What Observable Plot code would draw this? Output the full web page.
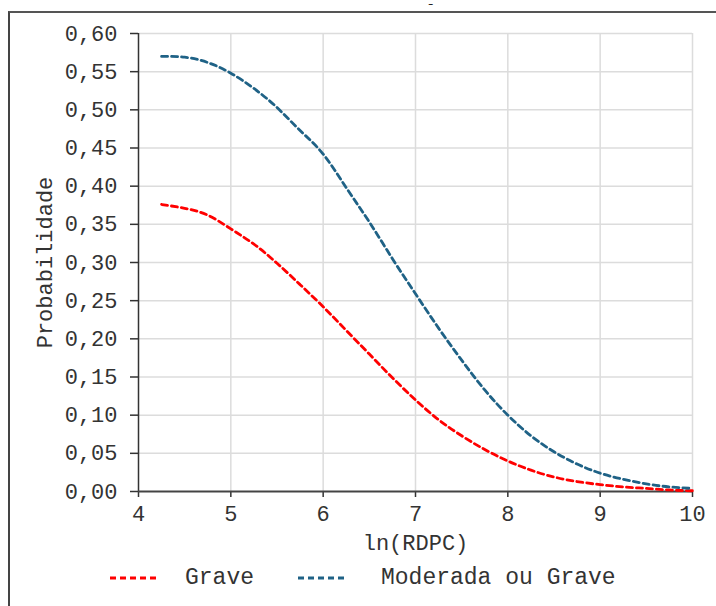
<!DOCTYPE html>
<html>
<head>
<meta charset="utf-8">
<script src="https://cdn.jsdelivr.net/npm/d3@7"></script>
<script src="https://cdn.jsdelivr.net/npm/@observablehq/plot@0.6"></script>
<style>
  html, body { margin: 0; padding: 0; background: #fff; }
  #wrap { position: relative; width: 716px; height: 606px; overflow: hidden; font-family: "Liberation Mono", "DejaVu Sans Mono", monospace; color: #333; }
  #frame { position: absolute; left: 8px; top: 11px; width: 760px; height: 640px; border-left: 2px solid #444; border-top: 2px solid #555; box-sizing: border-box; }
  #chart { position: absolute; left: 0; top: 0; }
  #topmark { position: absolute; left: 428px; top: 0px; font-size: 9px; line-height: normal; font-weight: bold; color: #222; z-index: 5; }
  .leg { position: absolute; top: 566px; height: 24px; display: flex; align-items: center; font-size: 23px; color: #333; white-space: nowrap; }
  .leg svg { display: block; }
</style>
</head>
<body>
<div id="wrap">
  <div id="frame"></div>
  <div id="chart"></div>
  <div id="topmark">–</div>
</div>
<script>
// ---- data ----
const lnRDPC = [4.25, 4.5, 4.75, 5.0, 5.25, 5.5, 5.75, 6.0, 6.25, 6.5, 6.75, 7.0, 7.25, 7.5, 7.75, 8.0, 8.25, 8.5, 8.75, 9.0, 9.25, 9.5, 9.75, 10.0];
const grave = [0.376, 0.371, 0.362, 0.344, 0.324, 0.299, 0.271, 0.242, 0.211, 0.180, 0.149, 0.120, 0.094, 0.073, 0.055, 0.040, 0.028, 0.019, 0.013, 0.009, 0.006, 0.004, 0.002, 0.001];
const moderadaOuGrave = [0.570, 0.569, 0.562, 0.548, 0.528, 0.503, 0.473, 0.442, 0.398, 0.353, 0.305, 0.259, 0.214, 0.172, 0.133, 0.100, 0.073, 0.052, 0.036, 0.024, 0.016, 0.010, 0.006, 0.004];
const seriesNames = ["Grave", "Moderada ou Grave"];
const seriesColors = ["#ff0000", "#1f6286"];
const xTicks = [4, 5, 6, 7, 8, 9, 10];
const yTicks = [0, 0.05, 0.10, 0.15, 0.20, 0.25, 0.30, 0.35, 0.40, 0.45, 0.50, 0.55, 0.60];
const xLabel = "ln(RDPC)";
const yLabel = "Probabilidade";

// ---- table ----
const rows = [];
lnRDPC.forEach((x, i) => {
  rows.push({x, y: grave[i], s: seriesNames[0]});
  rows.push({x, y: moderadaOuGrave[i], s: seriesNames[1]});
});

const fmt = d => d.toFixed(2).replace(".", ",");
const dash = "6,4";

const plot = Plot.plot({
  width: 716,
  height: 560,
  marginLeft: 138,
  marginRight: 24,
  marginTop: 33,
  marginBottom: 69,
  style: { fontFamily: "Liberation Mono, monospace", fontSize: "22px", color: "#333", background: "transparent", overflow: "visible" },
  x: { domain: [4, 10] },
  y: { domain: [0, 0.6] },
  color: { domain: seriesNames, range: seriesColors },
  marks: [
    Plot.gridX(xTicks.filter(d => d !== 4), { stroke: "#dcdcdc", strokeOpacity: 1, strokeWidth: 1.5 }),
    Plot.gridY(yTicks.filter(d => d !== 0), { stroke: "#dcdcdc", strokeOpacity: 1, strokeWidth: 1.5 }),
    Plot.axisY(yTicks, { tickSize: 8, tickPadding: 13, tickFormat: fmt, stroke: "#333", strokeWidth: 1.5, fill: "#333",
      label: yLabel, labelAnchor: "center", labelOffset: 102, labelArrow: "none" }),
    Plot.axisX(xTicks, { tickSize: 6, tickPadding: 8, tickFormat: d => String(d), stroke: "#333", strokeWidth: 1.5, fill: "#333",
      label: xLabel, labelAnchor: "center", labelOffset: 58, labelArrow: "none" }),
    Plot.ruleX([4], { stroke: "#333", strokeWidth: 1.5 }),
    Plot.ruleY([0], { stroke: "#444", strokeWidth: 2 }),
    Plot.line(rows, { x: "x", y: "y", z: "s", stroke: "s", strokeWidth: 2.8, strokeDasharray: dash, curve: "natural" })
  ]
});
document.getElementById("chart").appendChild(plot);

// ---- legend ----
const wrap = document.getElementById("wrap");
const legPos = [{line: 110, text: 185}, {line: 298, text: 381}];
seriesNames.forEach((name, i) => {
  const item = document.createElement("div");
  item.className = "leg";
  item.style.left = legPos[i].line + "px";
  const sw = legPos[i].text - legPos[i].line;
  item.innerHTML = `<svg width="${sw}" height="24"><line x1="0" x2="50" y1="12" y2="12" stroke="${seriesColors[i]}" stroke-width="2.8" stroke-dasharray="${dash}"/></svg><span>${name}</span>`;
  wrap.appendChild(item);
});
</script>
</body>
</html>
